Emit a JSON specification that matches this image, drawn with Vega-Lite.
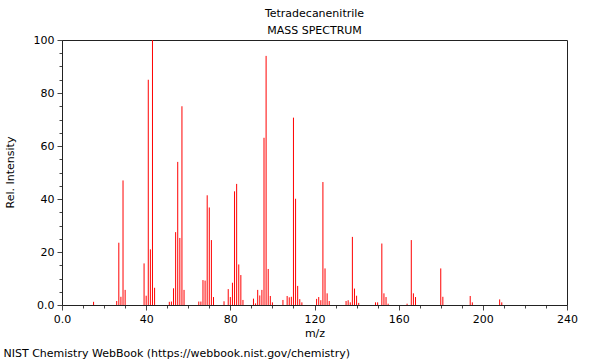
{
  "$schema": "https://vega.github.io/schema/vega-lite/v6.json",
  "width": 505,
  "height": 265,
  "autosize": "none",
  "padding": {"left": 62, "top": 40, "right": 33, "bottom": 55},
  "background": "white",
  "title": {
    "text": ["Tetradecanenitrile", "MASS SPECTRUM"],
    "fontSize": 11,
    "fontWeight": "normal",
    "font": "DejaVu Sans",
    "color": "black",
    "lineHeight": 17,
    "anchor": "middle",
    "offset": -2
  },
  "config": {
    "font": "DejaVu Sans",
    "view": {"stroke": "#222", "strokeWidth": 1},
    "axis": {
      "domainColor": "#222",
      "tickColor": "#444",
      "labelColor": "black",
      "titleColor": "black",
      "labelFontSize": 11,
      "titleFontSize": 11,
      "titleFontWeight": "normal",
      "labelFont": "DejaVu Sans",
      "titleFont": "DejaVu Sans",
      "grid": false
    }
  },
  "data": {
    "values": [
      {"mz": 15, "intensity": 1.2},
      {"mz": 26, "intensity": 1.5},
      {"mz": 27, "intensity": 23.5},
      {"mz": 28, "intensity": 3.1},
      {"mz": 29, "intensity": 47},
      {"mz": 30, "intensity": 5.7},
      {"mz": 39, "intensity": 15.7},
      {"mz": 40, "intensity": 3.5},
      {"mz": 41, "intensity": 85},
      {"mz": 42, "intensity": 21},
      {"mz": 43, "intensity": 100},
      {"mz": 44, "intensity": 6.5},
      {"mz": 51, "intensity": 1.2},
      {"mz": 52, "intensity": 1.3},
      {"mz": 53, "intensity": 6.3},
      {"mz": 54, "intensity": 27.5},
      {"mz": 55, "intensity": 54},
      {"mz": 56, "intensity": 25.3},
      {"mz": 57, "intensity": 75},
      {"mz": 58, "intensity": 5.7},
      {"mz": 65, "intensity": 1.3},
      {"mz": 66, "intensity": 1.3},
      {"mz": 67, "intensity": 9.4},
      {"mz": 68, "intensity": 9.2},
      {"mz": 69, "intensity": 41.4},
      {"mz": 70, "intensity": 36.8},
      {"mz": 71, "intensity": 24.5},
      {"mz": 72, "intensity": 3},
      {"mz": 77, "intensity": 1.4},
      {"mz": 79, "intensity": 6},
      {"mz": 80, "intensity": 3},
      {"mz": 81, "intensity": 8.4},
      {"mz": 82, "intensity": 42.9},
      {"mz": 83, "intensity": 45.7},
      {"mz": 84, "intensity": 15.3},
      {"mz": 85, "intensity": 11.3},
      {"mz": 86, "intensity": 1.9},
      {"mz": 91, "intensity": 2.4},
      {"mz": 92, "intensity": 0.6},
      {"mz": 93, "intensity": 5.7},
      {"mz": 94, "intensity": 3.6},
      {"mz": 95, "intensity": 5.7},
      {"mz": 96, "intensity": 63.1},
      {"mz": 97, "intensity": 94},
      {"mz": 98, "intensity": 13.6},
      {"mz": 99, "intensity": 3.4},
      {"mz": 100, "intensity": 1},
      {"mz": 105, "intensity": 1.9},
      {"mz": 107, "intensity": 3.4},
      {"mz": 108, "intensity": 2.9},
      {"mz": 109, "intensity": 3.1},
      {"mz": 110, "intensity": 70.7},
      {"mz": 111, "intensity": 40.1},
      {"mz": 112, "intensity": 7.2},
      {"mz": 113, "intensity": 2.2},
      {"mz": 114, "intensity": 1},
      {"mz": 121, "intensity": 2.3},
      {"mz": 122, "intensity": 3},
      {"mz": 123, "intensity": 1.8},
      {"mz": 124, "intensity": 46.4},
      {"mz": 125, "intensity": 13.8},
      {"mz": 126, "intensity": 4.4},
      {"mz": 127, "intensity": 1.5},
      {"mz": 135, "intensity": 1.5},
      {"mz": 136, "intensity": 1.8},
      {"mz": 137, "intensity": 1},
      {"mz": 138, "intensity": 25.7},
      {"mz": 139, "intensity": 6.2},
      {"mz": 140, "intensity": 3.5},
      {"mz": 141, "intensity": 0.8},
      {"mz": 149, "intensity": 1},
      {"mz": 150, "intensity": 1},
      {"mz": 152, "intensity": 23.2},
      {"mz": 153, "intensity": 4.4},
      {"mz": 154, "intensity": 3},
      {"mz": 155, "intensity": 0.5},
      {"mz": 164, "intensity": 0.5},
      {"mz": 166, "intensity": 24.5},
      {"mz": 167, "intensity": 4.4},
      {"mz": 168, "intensity": 3},
      {"mz": 180, "intensity": 13.8},
      {"mz": 181, "intensity": 3.1},
      {"mz": 194, "intensity": 3.4},
      {"mz": 195, "intensity": 1},
      {"mz": 208, "intensity": 2.1},
      {"mz": 209, "intensity": 1}
    ]
  },
  "layer": [
    {
      "mark": {"type": "rule", "color": "#ff0000", "strokeWidth": 1},
      "encoding": {
        "x": {
          "field": "mz",
          "type": "quantitative",
          "scale": {"domain": [0, 240], "nice": false, "zero": false},
          "axis": {
            "title": "m/z",
            "values": [0, 10, 20, 30, 40, 50, 60, 70, 80, 90, 100, 110, 120, 130, 140, 150, 160, 170, 180, 190, 200, 210, 220, 230, 240],
            "labelExpr": "datum.value == 0 ? '0.0' : (datum.value % 40 == 0 ? datum.label : '')",
            "tickSize": {"condition": {"test": "datum.value % 40 == 0", "value": 5}, "value": 3},
            "labelPadding": 3,
            "labelFlush": false,
            "labelOverlap": false,
            "titleY": 28,
            "titleBaseline": "middle"
          }
        },
        "y": {
          "field": "intensity",
          "type": "quantitative",
          "scale": {"domain": [0, 100], "nice": false},
          "axis": {
            "title": "Rel. Intensity",
            "values": [0, 5, 10, 15, 20, 25, 30, 35, 40, 45, 50, 55, 60, 65, 70, 75, 80, 85, 90, 95, 100],
            "labelExpr": "datum.value == 0 ? '0.0' : (datum.value % 20 == 0 ? datum.label : '')",
            "tickSize": {"condition": {"test": "datum.value % 20 == 0", "value": 5}, "value": 3},
            "labelPadding": 3,
            "labelFlush": false,
            "labelOverlap": false,
            "titleX": -52,
            "titleY": 132,
            "titleBaseline": "middle",
            "titleAngle": -90
          }
        },
        "y2": {"datum": 0}
      }
    },
    {
      "mark": {"type": "rule", "opacity": 0},
      "encoding": {
        "x": {
          "field": "mz",
          "type": "quantitative",
          "axis": {
            "orient": "top",
            "domain": false,
            "ticks": false,
            "labels": false,
            "title": "NIST Chemistry WebBook (https://webbook.nist.gov/chemistry)",
            "titleX": -59,
            "titleY": 313,
            "titleAlign": "left",
            "titleAnchor": "start",
            "titleBaseline": "middle"
          }
        }
      }
    }
  ],
  "resolve": {"axis": {"x": "independent"}}
}
